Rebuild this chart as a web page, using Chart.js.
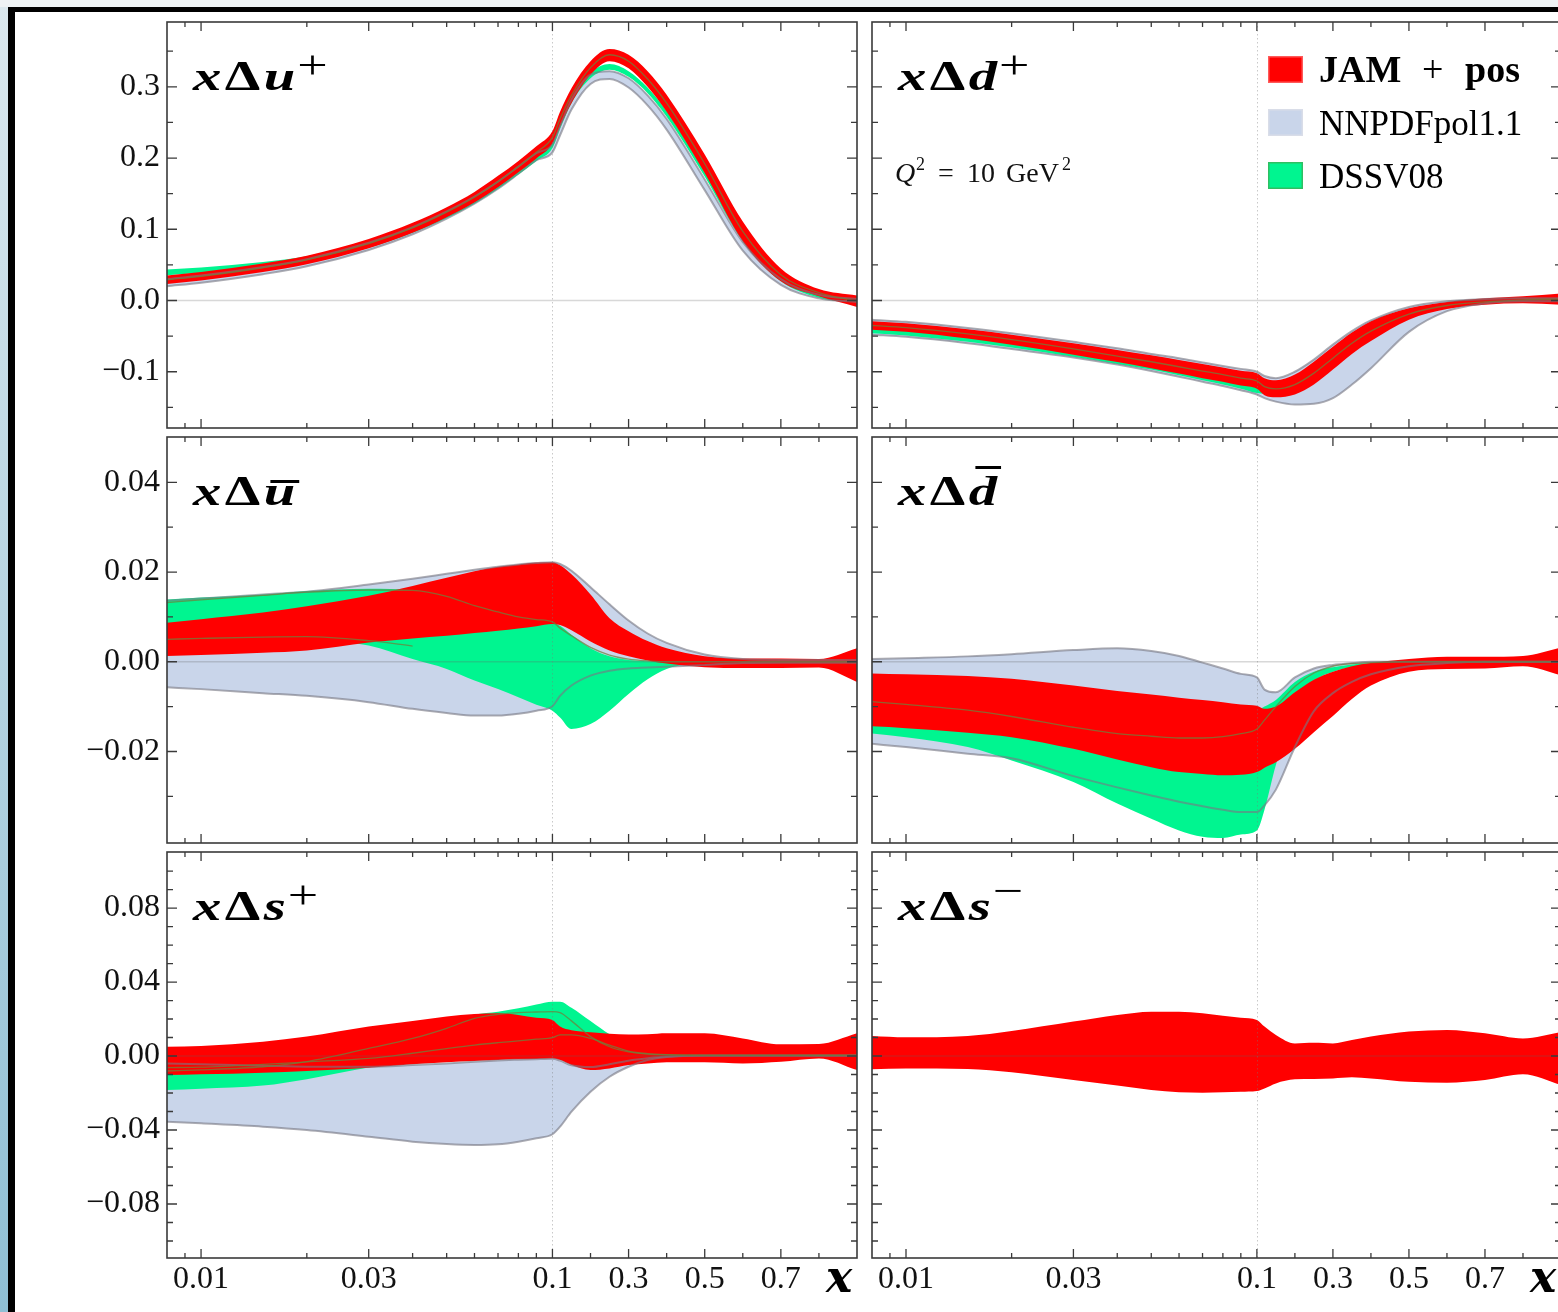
<!DOCTYPE html>
<html lang="en">
<head>
<meta charset="UTF-8">
<title>Polarized PDFs at Q2 = 10 GeV2</title>
<style>
  html, body { margin: 0; padding: 0; background: #fff; overflow: hidden; }
  body { width: 1558px; height: 1312px; position: relative; }
  .strip-left { position: absolute; left: 0; top: 0; width: 8px; height: 1312px; background: linear-gradient(#dbe8ee, #8fbfd4); }
  .strip-top { position: absolute; left: 0; top: 0; width: 1558px; height: 7px; background: #eef2f4; }
  .frame-left { position: absolute; left: 8px; top: 7px; width: 7px; height: 1305px; background: #000; }
  .frame-top { position: absolute; left: 8px; top: 7px; width: 1550px; height: 5px; background: #000; }
  canvas { position: absolute; }
</style>
</head>
<body>
<div class="strip-left"></div>
<div class="strip-top"></div>
<div class="frame-left"></div>
<div class="frame-top"></div>
<script src="https://cdn.jsdelivr.net/npm/chart.js"></script>
<script>
// x grid shared by every curve
const XS = [0.008, 0.01, 0.015, 0.02, 0.03, 0.04, 0.05, 0.06, 0.07, 0.08, 0.09, 0.1,
            0.12, 0.15, 0.2, 0.25, 0.3, 0.35, 0.4, 0.5, 0.6, 0.7, 0.8, 0.9]

// x Delta u+
const UPLUS_JAM_LO   = [0.023, 0.028, 0.040, 0.051, 0.0735, 0.095, 0.117, 0.1375, 0.159, 0.180, 0.1995, 0.220, 0.244, 0.277, 0.317, 0.336, 0.326, 0.300, 0.265, 0.179, 0.083, 0.027, 0.006, -0.009]
const UPLUS_JAM_HI   = [0.035, 0.040, 0.052, 0.063, 0.0865, 0.109, 0.131, 0.1525, 0.175, 0.196, 0.2165, 0.238, 0.265, 0.298, 0.336, 0.353, 0.345, 0.322, 0.289, 0.205, 0.111, 0.045, 0.016, 0.007]
const UPLUS_JAM_MID  = [0.029, 0.034, 0.046, 0.057, 0.080, 0.102, 0.124, 0.145, 0.167, 0.188, 0.208, 0.229, 0.255, 0.288, 0.327, 0.345, 0.336, 0.311, 0.277, 0.192, 0.097, 0.036, 0.011, -0.001]
const UPLUS_DSSV_LO  = [0.0355, 0.0385, 0.046, 0.054, 0.074, 0.095, 0.116, 0.136, 0.157, 0.177, 0.196, 0.214, 0.241, 0.277, 0.312, 0.324, 0.314, 0.291, 0.258, 0.174, 0.083, 0.027, 0.004, -0.003]
const UPLUS_DSSV_HI  = [0.0435, 0.0465, 0.054, 0.062, 0.082, 0.103, 0.124, 0.144, 0.165, 0.185, 0.204, 0.222, 0.249, 0.285, 0.320, 0.332, 0.322, 0.299, 0.266, 0.182, 0.091, 0.035, 0.012, 0.005]
const UPLUS_NNPDF_LO = [0.020, 0.025, 0.037, 0.048, 0.071, 0.093, 0.115, 0.136, 0.157, 0.178, 0.197, 0.208, 0.232, 0.268, 0.304, 0.311, 0.299, 0.274, 0.240, 0.155, 0.070, 0.022, 0.003, -0.002]
const UPLUS_NNPDF_HI = [0.030, 0.035, 0.047, 0.058, 0.081, 0.103, 0.125, 0.146, 0.167, 0.188, 0.207, 0.219, 0.245, 0.282, 0.317, 0.322, 0.312, 0.288, 0.255, 0.170, 0.082, 0.030, 0.008, 0.002]

// x Delta d+
const DPLUS_JAM_LO   = [-0.041, -0.044, -0.0535, -0.062, -0.076, -0.0865, -0.095, -0.1025, -0.109, -0.114, -0.1195, -0.124, -0.133, -0.136, -0.132, -0.118, -0.097, -0.075, -0.057, -0.027, -0.012, -0.006, -0.004, -0.006]
const DPLUS_JAM_HI   = [-0.029, -0.032, -0.0405, -0.048, -0.060, -0.0695, -0.077, -0.0835, -0.089, -0.094, -0.0985, -0.102, -0.109, -0.112, -0.104, -0.086, -0.065, -0.045, -0.029, -0.011, -0.002, 0.003, 0.006, 0.010]
const DPLUS_JAM_MID  = [-0.035, -0.038, -0.047, -0.055, -0.068, -0.078, -0.086, -0.093, -0.099, -0.104, -0.109, -0.113, -0.121, -0.124, -0.118, -0.102, -0.081, -0.060, -0.043, -0.019, -0.007, -0.002, 0.001, 0.002]
const DPLUS_DSSV_LO  = [-0.046, -0.049, -0.058, -0.066, -0.079, -0.089, -0.097, -0.105, -0.112, -0.118, -0.124, -0.130, -0.131, -0.130, -0.124, -0.109, -0.088, -0.067, -0.050, -0.024, -0.010, -0.004, -0.002, -0.002]
const DPLUS_DSSV_HI  = [-0.036, -0.039, -0.048, -0.056, -0.069, -0.079, -0.087, -0.094, -0.100, -0.106, -0.111, -0.116, -0.117, -0.118, -0.112, -0.097, -0.076, -0.055, -0.038, -0.014, -0.004, 0.000, 0.002, 0.003]
const DPLUS_NNPDF_LO = [-0.048, -0.051, -0.060, -0.068, -0.080, -0.090, -0.099, -0.107, -0.114, -0.120, -0.126, -0.132, -0.137, -0.142, -0.146, -0.145, -0.137, -0.118, -0.095, -0.044, -0.015, -0.004, -0.001, -0.001]
const DPLUS_NNPDF_HI = [-0.027, -0.030, -0.0385, -0.046, -0.058, -0.067, -0.075, -0.081, -0.087, -0.092, -0.096, -0.100, -0.106, -0.109, -0.100, -0.083, -0.062, -0.043, -0.028, -0.009, -0.001, 0.002, 0.003, 0.003]

// x Delta u-bar
const UBAR_JAM_LO   = [0.0013, 0.0015, 0.0020, 0.0025, 0.0043, 0.0052, 0.0058, 0.0064, 0.0069, 0.0074, 0.0079, 0.0084, 0.0082, 0.0070, 0.0045, 0.0025, 0.0012, 0.0003, -0.0004, -0.0012, -0.0014, -0.0014, -0.0013, -0.0045]
const UBAR_JAM_HI   = [0.0087, 0.0095, 0.0110, 0.0124, 0.0147, 0.0169, 0.0187, 0.0202, 0.0212, 0.0217, 0.0221, 0.0222, 0.0215, 0.0195, 0.0150, 0.0097, 0.0068, 0.0046, 0.0030, 0.0012, 0.0007, 0.0007, 0.0006, 0.0030]
const UBAR_DSSV_LO  = [0.0060, 0.0058, 0.0055, 0.0052, 0.0036, 0.0006, -0.0016, -0.0042, -0.0061, -0.0079, -0.0096, -0.0109, -0.0124, -0.0150, -0.0139, -0.0109, -0.0072, -0.0039, -0.0016, -0.0003, -0.0001, -0.0001, -0.0001, -0.0001]
const UBAR_DSSV_HI  = [0.0139, 0.0143, 0.0150, 0.0158, 0.0163, 0.0160, 0.0150, 0.0138, 0.0125, 0.0112, 0.0100, 0.0088, 0.0080, 0.0060, 0.0030, 0.0012, 0.0004, 0.0001, 0.0000, 0.0000, 0.0000, 0.0000, 0.0000, 0.0000]
const UBAR_NNPDF_LO = [-0.0057, -0.0061, -0.0070, -0.0076, -0.0090, -0.0105, -0.0114, -0.0120, -0.0120, -0.0116, -0.0109, -0.0099, -0.0076, -0.0053, -0.0031, -0.0020, -0.0015, -0.0013, -0.0011, -0.0007, -0.0003, -0.0002, -0.0002, -0.0002]
const UBAR_NNPDF_HI = [0.0136, 0.0141, 0.0150, 0.0156, 0.0172, 0.0185, 0.0196, 0.0205, 0.0212, 0.0217, 0.0220, 0.0222, 0.0218, 0.0203, 0.0166, 0.0128, 0.0092, 0.0063, 0.0042, 0.0016, 0.0006, 0.0004, 0.0004, 0.0004]
const UBAR_LINE_A   = [0.0050, 0.0052, 0.0055, 0.0056, 0.0047, 0.0035, null, null, null, null, null, null, null, null, null, null, null, null, null, null, null, null, null, null]
const UBAR_LINE_B   = [0.0132, 0.0138, 0.0148, 0.0155, 0.0160, 0.0159, 0.0146, 0.0125, 0.0111, 0.0100, 0.0094, 0.0089, 0.0075, 0.0058, 0.0032, 0.0015, 0.0006, 0.0002, 0.0000, 0.0000, 0.0000, 0.0000, 0.0000, 0.0000]

// x Delta d-bar
const DBAR_JAM_LO   = [-0.0144, -0.0148, -0.0158, -0.0168, -0.0194, -0.0218, -0.0235, -0.0246, -0.0250, -0.0253, -0.0252, -0.0246, -0.0236, -0.0224, -0.0194, -0.0157, -0.0121, -0.0083, -0.0053, -0.0022, -0.0016, -0.0015, -0.0010, -0.0030]
const DBAR_JAM_HI   = [-0.0026, -0.0028, -0.0032, -0.0038, -0.0053, -0.0065, -0.0073, -0.0080, -0.0085, -0.0090, -0.0095, -0.0098, -0.0105, -0.0100, -0.0068, -0.0040, -0.0022, -0.0010, -0.0003, 0.0006, 0.0011, 0.0011, 0.0013, 0.0032]
const DBAR_JAM_MID  = [-0.0089, -0.0095, -0.0108, -0.0122, -0.0146, -0.0160, -0.0166, -0.0170, -0.0170, -0.0167, -0.0160, -0.0150, -0.0130, -0.0100, -0.0055, -0.0025, -0.0010, -0.0004, -0.0002, 0.0000, 0.0000, 0.0000, 0.0000, 0.0000]
const DBAR_DSSV_LO  = [-0.0160, -0.0168, -0.0190, -0.0220, -0.0268, -0.0316, -0.0350, -0.0376, -0.0390, -0.0393, -0.0385, -0.0376, -0.0330, -0.0230, -0.0110, -0.0045, -0.0022, -0.0012, -0.0007, -0.0003, -0.0001, 0.0000, 0.0000, 0.0000]
const DBAR_DSSV_HI  = [-0.0120, -0.0124, -0.0132, -0.0140, -0.0155, -0.0165, -0.0170, -0.0170, -0.0165, -0.0155, -0.0135, -0.0110, -0.0100, -0.0085, -0.0045, -0.0022, -0.0012, -0.0006, -0.0003, 0.0000, 0.0000, 0.0000, 0.0000, 0.0000]
const DBAR_NNPDF_LO = [-0.0183, -0.0190, -0.0205, -0.0215, -0.0255, -0.0280, -0.0298, -0.0312, -0.0322, -0.0330, -0.0335, -0.0335, -0.0320, -0.0285, -0.0190, -0.0110, -0.0070, -0.0045, -0.0028, -0.0010, -0.0003, 0.0000, 0.0000, 0.0000]
const DBAR_NNPDF_HI = [0.0006, 0.0008, 0.0012, 0.0017, 0.0026, 0.0030, 0.0024, 0.0013, -0.0002, -0.0015, -0.0027, -0.0035, -0.0062, -0.0068, -0.0035, -0.0015, -0.0007, -0.0003, 0.0000, 0.0000, 0.0000, 0.0000, 0.0000, 0.0000]

// x Delta s+
const SPLUS_JAM_LO   = [-0.0103, -0.0099, -0.0090, -0.0081, -0.0063, -0.0045, -0.0034, -0.0027, -0.0022, -0.0018, -0.0016, -0.0013, -0.0022, -0.0049, -0.0076, -0.0067, -0.0049, -0.0040, -0.0034, -0.0034, -0.0040, -0.0031, -0.0013, -0.0076]
const SPLUS_JAM_HI   = [0.0050, 0.0054, 0.0077, 0.0105, 0.0159, 0.0189, 0.0213, 0.0227, 0.0231, 0.0222, 0.0207, 0.0195, 0.0159, 0.0139, 0.0128, 0.0121, 0.0117, 0.0118, 0.0123, 0.0123, 0.0095, 0.0063, 0.0065, 0.0123]
const SPLUS_DSSV_LO  = [-0.0184, -0.0177, -0.0160, -0.0125, -0.0062, -0.0030, 0.0000, 0.0030, 0.0055, 0.0070, 0.0080, 0.0090, 0.0080, 0.0050, 0.0010, -0.0005, -0.0005, -0.0003, -0.0001, 0.0000, 0.0000, 0.0000, 0.0000, 0.0000]
const SPLUS_DSSV_HI  = [0.0000, 0.0005, 0.0020, 0.0045, 0.0095, 0.0145, 0.0190, 0.0225, 0.0240, 0.0258, 0.0279, 0.0294, 0.0294, 0.0261, 0.0189, 0.0118, 0.0070, 0.0040, 0.0020, 0.0010, 0.0010, 0.0010, 0.0010, 0.0010]
const SPLUS_NNPDF_LO = [-0.0355, -0.0364, -0.0382, -0.0400, -0.0436, -0.0463, -0.0476, -0.0481, -0.0477, -0.0463, -0.0445, -0.0423, -0.0382, -0.0301, -0.0193, -0.0112, -0.0058, -0.0022, -0.0005, 0.0002, 0.0002, 0.0002, 0.0002, 0.0002]
const SPLUS_NNPDF_HI = [-0.0040, -0.0045, -0.0052, -0.0058, -0.0058, -0.0049, -0.0040, -0.0031, -0.0024, -0.0020, -0.0017, -0.0015, -0.0025, -0.0050, -0.0060, -0.0045, -0.0025, -0.0012, -0.0003, 0.0003, 0.0003, 0.0003, 0.0003, 0.0003]
const SPLUS_LINE_A   = [-0.0063, -0.0060, -0.0045, -0.0032, -0.0013, 0.0015, 0.0040, 0.0059, 0.0072, 0.0082, 0.0091, 0.0099, 0.0114, 0.0114, 0.0095, 0.0059, 0.0027, 0.0013, 0.0007, 0.0003, 0.0003, 0.0003, 0.0003, 0.0003]
const SPLUS_LINE_B   = [-0.0081, -0.0075, -0.0058, -0.0030, 0.0041, 0.0095, 0.0150, 0.0204, 0.0225, 0.0235, 0.0238, 0.0240, 0.0235, 0.0190, 0.0105, 0.0050, 0.0022, 0.0010, 0.0006, 0.0004, 0.0004, 0.0004, 0.0004, 0.0004]

// x Delta s-
const SMINUS_JAM_LO = [-0.0072, -0.0067, -0.0070, -0.0088, -0.0130, -0.0160, -0.0184, -0.0196, -0.0198, -0.0196, -0.0193, -0.0189, -0.0175, -0.0148, -0.0126, -0.0124, -0.0121, -0.0115, -0.0121, -0.0139, -0.0144, -0.0130, -0.0099, -0.0157]
const SMINUS_JAM_HI = [0.0108, 0.0101, 0.0108, 0.0135, 0.0186, 0.0222, 0.0240, 0.0240, 0.0231, 0.0218, 0.0207, 0.0195, 0.0159, 0.0114, 0.0068, 0.0072, 0.0068, 0.0086, 0.0105, 0.0132, 0.0141, 0.0123, 0.0095, 0.0130]

// axis ticks
const X_MAJOR  = [0.01, 0.03, 0.1, 0.3, 0.5, 0.7]
const X_LABELS = ['0.01', '0.03', '0.1', '0.3', '0.5', '0.7']
const X_MINOR  = [0.009, 0.02, 0.04, 0.05, 0.06, 0.07, 0.08, 0.09, 0.2, 0.4, 0.6, 0.8]

const Y1_MAJOR  = [-0.1, 0, 0.1, 0.2, 0.3]
const Y1_LABELS = ['\u22120.1', '0.0', '0.1', '0.2', '0.3']
const Y1_MINOR  = [-0.15, -0.05, 0.05, 0.15, 0.25, 0.35]
const Y2_MAJOR  = [-0.02, 0, 0.02, 0.04]
const Y2_LABELS = ['\u22120.02', '0.00', '0.02', '0.04']
const Y2_MINOR  = [-0.03, -0.01, 0.01, 0.03]
const Y3_MAJOR  = [-0.08, -0.04, 0, 0.04, 0.08]
const Y3_LABELS = ['\u22120.08', '\u22120.04', '0.00', '0.04', '0.08']
const Y3_MINOR  = [-0.1, -0.09, -0.07, -0.06, -0.05, -0.03, -0.02, -0.01, 0.01, 0.02, 0.03, 0.05, 0.06, 0.07, 0.09, 0.1]

const LEGEND_LABELS = ['JAM + pos', 'NNPDFpol1.1', 'DSSV08']

const RED = '#ff0000'
const GREEN = '#00f590'
const GRAY_FILL = '#c9d5ea'
const GRAY_EDGE = 'rgba(120,120,130,0.62)'
const MID_LINE = 'rgba(110,130,60,0.75)'
const FRAME = '#3a3a3a'

// split axis: log below 0.1, linear above
const K_LIN = 1.0834
const T = x => x <= 0.1 ? Math.log10(x) : -1 + (x - 0.1) * K_LIN

const ROWS = [
  { top: 0,   height: 432, padTop: 22, xAxisH: 4,  min: -0.179,  max: 0.391,  major: Y1_MAJOR, labels: Y1_LABELS, minor: Y1_MINOR },
  { top: 432, height: 415, padTop: 5,  xAxisH: 4,  min: -0.0404, max: 0.0501, major: Y2_MAJOR, labels: Y2_LABELS, minor: Y2_MINOR },
  { top: 847, height: 465, padTop: 5,  xAxisH: 54, min: -0.1092, max: 0.1103, major: Y3_MAJOR, labels: Y3_LABELS, minor: Y3_MINOR }
]
const COLS = [
  { left: 0,   width: 865, yAxisW: 167, padRight: 8, showY: true },
  { left: 865, width: 700, yAxisW: 7,   padRight: 4, showY: false }
]

const PANELS = [
  { id: 'uplus', row: 0, col: 0, title: { base: 'u', sup: '+' },
    nnpdf: [UPLUS_NNPDF_LO, UPLUS_NNPDF_HI], dssv: [UPLUS_DSSV_LO, UPLUS_DSSV_HI], jam: [UPLUS_JAM_LO, UPLUS_JAM_HI], lines: [UPLUS_JAM_MID] },
  { id: 'dplus', row: 0, col: 1, title: { base: 'd', sup: '+' }, legend: true, note: true,
    nnpdf: [DPLUS_NNPDF_LO, DPLUS_NNPDF_HI], dssv: [DPLUS_DSSV_LO, DPLUS_DSSV_HI], jam: [DPLUS_JAM_LO, DPLUS_JAM_HI], lines: [DPLUS_JAM_MID] },
  { id: 'ubar', row: 1, col: 0, title: { base: 'u', bar: -22 },
    nnpdf: [UBAR_NNPDF_LO, UBAR_NNPDF_HI], dssv: [UBAR_DSSV_LO, UBAR_DSSV_HI], jam: [UBAR_JAM_LO, UBAR_JAM_HI], lines: [UBAR_LINE_A, UBAR_LINE_B] },
  { id: 'dbar', row: 1, col: 1, title: { base: 'd', bar: -36 },
    nnpdf: [DBAR_NNPDF_LO, DBAR_NNPDF_HI], dssv: [DBAR_DSSV_LO, DBAR_DSSV_HI], jam: [DBAR_JAM_LO, DBAR_JAM_HI], lines: [DBAR_JAM_MID] },
  { id: 'splus', row: 2, col: 0, title: { base: 's', sup: '+' },
    nnpdf: [SPLUS_NNPDF_LO, SPLUS_NNPDF_HI], dssv: [SPLUS_DSSV_LO, SPLUS_DSSV_HI], jam: [SPLUS_JAM_LO, SPLUS_JAM_HI], lines: [SPLUS_LINE_A, SPLUS_LINE_B] },
  { id: 'sminus', row: 2, col: 1, title: { base: 's', sup: '\u2212' },
    nnpdf: null, dssv: null, jam: [SMINUS_JAM_LO, SMINUS_JAM_HI], lines: [] }
]
const PANEL_BY_ID = {}
PANELS.forEach(p => { PANEL_BY_ID[p.id] = p })

const pts = vals => XS.map((x, i) => ({ x: T(x), y: vals[i] }))

function band(pair, color, order) {
  return [
    { data: pts(pair[0]), borderWidth: 0, borderColor: 'rgba(0,0,0,0)', pointRadius: 0, fill: false, order, cubicInterpolationMode: 'monotone' },
    { data: pts(pair[1]), borderWidth: 0, borderColor: 'rgba(0,0,0,0)', pointRadius: 0, fill: '-1', backgroundColor: color, order, cubicInterpolationMode: 'monotone' }
  ]
}
function curve(vals, color, width, order) {
  return { data: pts(vals), borderColor: color, borderWidth: width, pointRadius: 0, fill: false, order, cubicInterpolationMode: 'monotone', spanGaps: false }
}

function buildDatasets(p) {
  const ds = []
  if (p.nnpdf) ds.push(...band(p.nnpdf, GRAY_FILL, 50))
  if (p.dssv) ds.push(...band(p.dssv, GREEN, 40))
  ds.push(...band(p.jam, RED, 30))
  if (p.nnpdf) {
    ds.push(curve(p.nnpdf[0], GRAY_EDGE, 2, 20))
    ds.push(curve(p.nnpdf[1], GRAY_EDGE, 2, 20))
  }
  p.lines.forEach(l => ds.push(curve(l, MID_LINE, 1.3, 10)))
  return ds
}

// panel label like x(Delta)u+, widened to look like the TeX bold math font
function drawTitle(ctx, x0, base, t) {
  const BI = 'bold italic 42px "Liberation Serif"'
  const B = 'bold 42px "Liberation Serif"'
  ctx.save()
  ctx.translate(x0, base)
  ctx.scale(1.35, 1)
  ctx.fillStyle = '#000'
  ctx.textAlign = 'left'
  ctx.textBaseline = 'alphabetic'
  let x = 0
  const put = (s, font) => {
    ctx.font = font
    ctx.fillText(s, x, 0)
    const w = ctx.measureText(s).width
    x += w + 2.5
    return w
  }
  put('x', BI)
  put('\u0394', B)
  const bx = x
  const bw = put(t.base, BI)
  if (t.bar) ctx.fillRect(bx + 5, t.bar - 3, bw - 2, 3)
  if (t.sup) {
    ctx.font = '40px "Liberation Serif"'
    ctx.fillText(t.sup, x - 1, t.sup === '+' ? -12 : -16)
  }
  ctx.restore()
}

function drawLegend(ctx, a) {
  const x0 = a.left + 396
  const fills = [RED, GRAY_FILL, GREEN]
  const edges = ['#ff5a5a', '#d9dde8', '#2fbf62']
  LEGEND_LABELS.forEach((lab, i) => {
    const y = a.top + 34 + i * 53
    ctx.fillStyle = fills[i]
    ctx.fillRect(x0, y, 35, 27)
    ctx.strokeStyle = edges[i]
    ctx.lineWidth = 1.5
    ctx.strokeRect(x0 + 0.75, y + 0.75, 33.5, 25.5)
    ctx.fillStyle = '#000'
    if (i === 0) {
      const parts = lab.split(' + ')
      ctx.font = 'bold 38px "Liberation Serif"'
      ctx.fillText(parts[0], x0 + 51, y + 26)
      ctx.fillText(parts[1], x0 + 197, y + 26)
      ctx.font = '38px "Liberation Serif"'
      ctx.fillText('+', x0 + 154, y + 26)
    } else {
      ctx.font = '35px "Liberation Serif"'
      ctx.fillText(lab, x0 + 51, y + 26)
    }
  })
}

function drawNote(ctx, a) {
  const x0 = a.left, b = a.top + 160
  ctx.fillStyle = '#111'
  ctx.font = 'italic 28px "Liberation Serif"'
  ctx.fillText('Q', x0 + 23, b)
  ctx.font = '18px "Liberation Serif"'
  ctx.fillText('2', x0 + 44, b - 12)
  ctx.font = '28px "Liberation Serif"'
  ctx.fillText('=', x0 + 66, b)
  ctx.fillText('10', x0 + 95, b)
  ctx.fillText('GeV', x0 + 134, b)
  ctx.font = '18px "Liberation Serif"'
  ctx.fillText('2', x0 + 190, b - 12)
}

const decor = {
  id: 'decor',
  afterDatasetsDraw(chart) {
    const p = PANEL_BY_ID[chart.canvas.id]
    const row = ROWS[p.row]
    const { ctx, chartArea: a } = chart
    const xs = chart.scales.x, ys = chart.scales.y
    const w = a.right - a.left, h = a.bottom - a.top

    ctx.save()
    ctx.beginPath()
    ctx.rect(a.left, a.top, w, h)
    ctx.clip()
    const y0 = ys.getPixelForValue(0)
    ctx.strokeStyle = 'rgba(100,100,100,0.25)'
    ctx.lineWidth = 1.5
    ctx.beginPath(); ctx.moveTo(a.left, y0); ctx.lineTo(a.right, y0); ctx.stroke()
    const xb = Math.round(xs.getPixelForValue(T(0.1))) + 0.5
    ctx.setLineDash([1.5, 2.5])
    ctx.strokeStyle = 'rgba(120,120,120,0.4)'
    ctx.lineWidth = 1
    ctx.beginPath(); ctx.moveTo(xb, a.top); ctx.lineTo(xb, a.bottom); ctx.stroke()
    ctx.restore()

    ctx.save()
    ctx.strokeStyle = FRAME
    ctx.lineWidth = 1.3
    ctx.beginPath()
    const vt = (vals, len) => vals.forEach(v => {
      const px = xs.getPixelForValue(T(v))
      ctx.moveTo(px, a.bottom); ctx.lineTo(px, a.bottom - len)
      ctx.moveTo(px, a.top); ctx.lineTo(px, a.top + len)
    })
    const ht = (vals, len) => vals.forEach(v => {
      const py = ys.getPixelForValue(v)
      ctx.moveTo(a.left, py); ctx.lineTo(a.left + len, py)
      ctx.moveTo(a.right, py); ctx.lineTo(a.right - len, py)
    })
    vt(X_MAJOR, 9); vt(X_MINOR, 5)
    ht(row.major, 10); ht(row.minor, 6)
    ctx.stroke()
    ctx.lineWidth = 1.6
    ctx.strokeRect(a.left, a.top, w, h)

    drawTitle(ctx, a.left + 26, a.top + 68, p.title)
    if (p.legend) drawLegend(ctx, a)
    if (p.note) drawNote(ctx, a)
    if (p.row === 2) {
      ctx.fillStyle = '#000'
      ctx.font = 'bold italic 44px "DejaVu Serif"'
      ctx.fillText('x', a.right - 31, a.bottom + 34)
    }
    ctx.restore()
  }
}

Chart.defaults.font.family = '"Liberation Serif", serif'
Chart.defaults.color = '#111'

PANELS.forEach(p => {
  const row = ROWS[p.row], col = COLS[p.col]
  const cv = document.createElement('canvas')
  cv.id = p.id
  cv.width = col.width
  cv.height = row.height
  cv.style.left = col.left + 'px'
  cv.style.top = row.top + 'px'
  cv.style.width = col.width + 'px'
  cv.style.height = row.height + 'px'
  document.body.appendChild(cv)

  new Chart(cv, {
    type: 'line',
    data: { datasets: buildDatasets(p) },
    plugins: [decor],
    options: {
      responsive: false,
      animation: false,
      events: [],
      layout: { padding: { top: row.padTop, right: col.padRight, left: 0, bottom: 0 }, autoPadding: false },
      plugins: { legend: { display: false }, tooltip: { enabled: false } },
      scales: {
        x: {
          type: 'linear', min: T(0.008), max: T(0.9),
          grid: { display: false, drawTicks: false }, border: { display: false },
          afterBuildTicks: s => { s.ticks = X_MAJOR.map(v => ({ value: T(v) })) },
          afterFit: s => { s.height = row.xAxisH; s.paddingLeft = 0; s.paddingRight = 0 },
          ticks: { display: p.row === 2, autoSkip: false, maxRotation: 0, padding: 2, color: '#111',
                   font: { size: 32 }, callback: (v, i) => X_LABELS[i] }
        },
        y: {
          type: 'linear', min: row.min, max: row.max,
          grid: { display: false, drawTicks: false }, border: { display: false },
          afterBuildTicks: s => { s.ticks = row.major.map(v => ({ value: v })) },
          afterFit: s => { s.width = col.yAxisW; s.paddingTop = 0; s.paddingBottom = 0 },
          ticks: { display: col.showY, autoSkip: false, padding: 7, color: '#111',
                   font: { size: 32 }, callback: (v, i) => row.labels[i] }
        }
      }
    }
  })
})
</script>
</body>
</html>
